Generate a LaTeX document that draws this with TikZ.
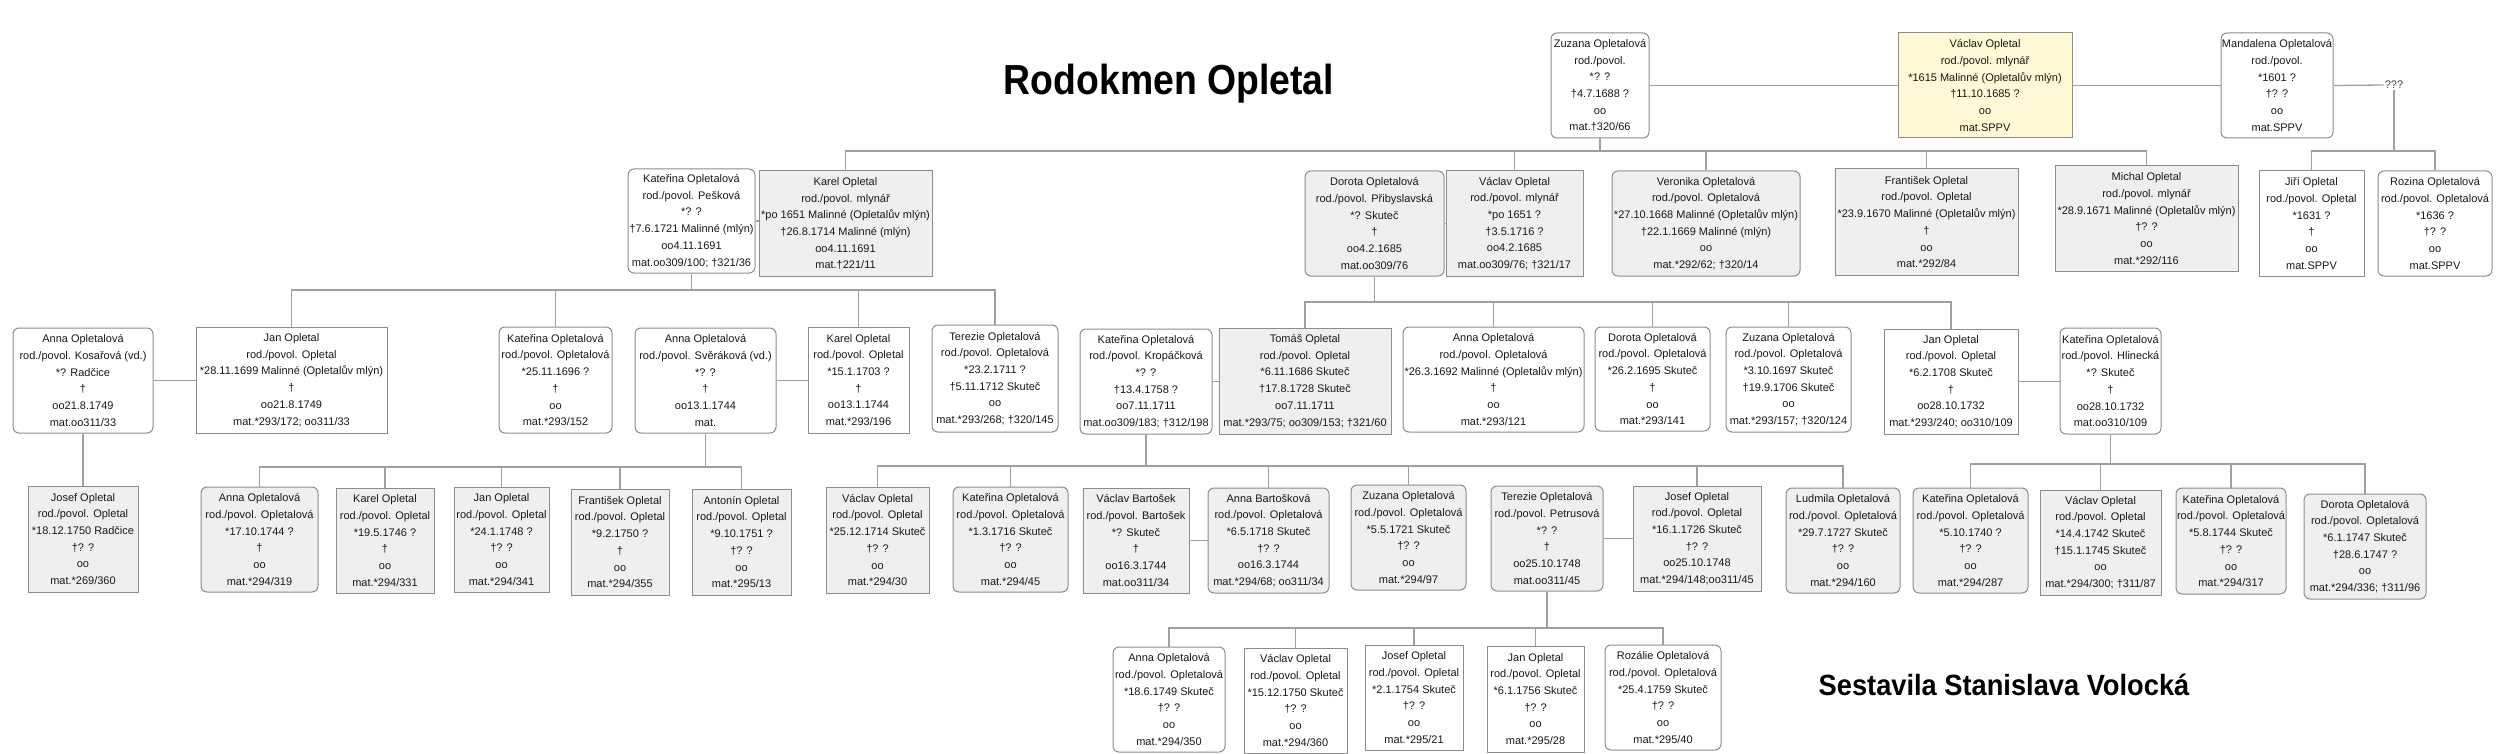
\documentclass[tikz,border=0pt]{standalone}
\usepackage{fontspec}
\usepackage{graphicx}
\setmainfont{Liberation Sans}
\usetikzlibrary{calc}
\definecolor{bordc}{HTML}{8C8C8C}
\definecolor{connc}{HTML}{A0A0A0}
\definecolor{greyf}{HTML}{EFEFEF}
\definecolor{yelf}{HTML}{FFF8D4}
\newcommand\person[7]{\node[pbox,#6,minimum width={#3pt-#2pt},minimum height={#5pt-#4pt}] (#1) at ({(#2+#3)/2},{-(#4+#5)/2}) {#7};}
\tikzset{
 pbox/.style={draw=bordc, line width=1pt, fill=white, inner sep=0pt, align=center, font=\fontsize{11}{16.7}\selectfont, text=black!90},
 male/.style={},
 fem/.style={rounded corners=6pt},
 gr/.style={fill=greyf},
 yel/.style={fill=yelf},
 conn/.style={draw=connc, line width=1.3pt},
}
\begin{document}
\begin{tikzpicture}[x=1pt,y=1pt]
\fill[white] (0,0) rectangle (2500,-754);
\useasboundingbox (0,0) rectangle (2500,-754);
% titles
\node[anchor=base, inner sep=0pt, font=\fontsize{42}{46}\selectfont\bfseries] (title) at (1169,-95) {\scalebox{0.89}[1]{Rodokmen Opletal}};
\node[anchor=base, inner sep=0pt, font=\fontsize{29.3}{32}\selectfont\bfseries] (author) at (2004,-695) {\scalebox{0.93}[1]{Sestavila Stanislava Volocká}};
% row 1
\person{zuz1}{1551}{1649}{33}{138}{fem}{Zuzana Opletalová\\rod./povol.\\*? ?\\†4.7.1688 ?\\oo\\mat.†320/66}
\person{vac1}{1898}{2072}{33}{138}{male,yel}{Václav Opletal\\rod./povol. mlynář\\*1615 Malinné (Opletalův mlýn)\\†11.10.1685 ?\\oo\\mat.SPPV}
\person{man1}{2221}{2333}{33}{138}{fem}{Mandalena Opletalová\\rod./povol.\\*1601 ?\\†? ?\\oo\\mat.SPPV}
\node[font=\fontsize{11}{13}\selectfont, inner sep=1pt, text=black!75] (unk) at (2394,-85) {???};
% row 2
\person{katP}{628}{755}{169}{273}{fem}{Kateřina Opletalová\\rod./povol. Pešková\\*? ?\\†7.6.1721 Malinné (mlýn)\\oo4.11.1691\\mat.oo309/100; †321/36}
\person{karP}{759}{932}{171}{276}{male,gr}{Karel Opletal\\rod./povol. mlynář\\*po 1651 Malinné (Opletalův mlýn)\\†26.8.1714 Malinné (mlýn)\\oo4.11.1691\\mat.†221/11}
\person{dorP}{1305}{1444}{171}{276}{fem,gr}{Dorota Opletalová\\rod./povol. Přibyslavská\\*? Skuteč\\†\\oo4.2.1685\\mat.oo309/76}
\person{vacP}{1446}{1583}{171}{276}{male,gr}{Václav Opletal\\rod./povol. mlynář\\*po 1651 ?\\†3.5.1716 ?\\oo4.2.1685\\mat.oo309/76; †321/17}
\person{ver}{1612}{1800}{171}{276}{fem,gr}{Veronika Opletalová\\rod./povol. Opletalová\\*27.10.1668 Malinné (Opletalův mlýn)\\†22.1.1669 Malinné (mlýn)\\oo\\mat.*292/62; †320/14}
\person{fra}{1835}{2018}{169}{275}{male,gr}{František Opletal\\rod./povol. Opletal\\*23.9.1670 Malinné (Opletalův mlýn)\\†\\oo\\mat.*292/84}
\person{mic}{2055}{2238}{166}{271}{male,gr}{Michal Opletal\\rod./povol. mlynář\\*28.9.1671 Malinné (Opletalův mlýn)\\†? ?\\oo\\mat.*292/116}
\person{jir}{2259}{2364}{171}{276}{male}{Jiří Opletal\\rod./povol. Opletal\\*1631 ?\\†\\oo\\mat.SPPV}
\person{roz}{2378}{2492}{171}{276}{fem}{Rozina Opletalová\\rod./povol. Opletalová\\*1636 ?\\†? ?\\oo\\mat.SPPV}
% row 3
\person{annK}{13}{153}{328}{433}{fem}{Anna Opletalová\\rod./povol. Kosařová (vd.)\\*? Radčice\\†\\oo21.8.1749\\mat.oo311/33}
\person{janA}{196}{387}{327}{433}{male}{Jan Opletal\\rod./povol. Opletal\\*28.11.1699 Malinné (Opletalův mlýn)\\†\\oo21.8.1749\\mat.*293/172; oo311/33}
\person{katA}{499}{612}{327}{433}{fem}{Kateřina Opletalová\\rod./povol. Opletalová\\*25.11.1696 ?\\†\\oo\\mat.*293/152}
\person{annS}{635}{776}{328}{433}{fem}{Anna Opletalová\\rod./povol. Svěráková (vd.)\\*? ?\\†\\oo13.1.1744\\mat.}
\person{karA}{808}{909}{327}{433}{male}{Karel Opletal\\rod./povol. Opletal\\*15.1.1703 ?\\†\\oo13.1.1744\\mat.*293/196}
\person{terA}{932}{1058}{325}{432}{fem}{Terezie Opletalová\\rod./povol. Opletalová\\*23.2.1711 ?\\†5.11.1712 Skuteč\\oo\\mat.*293/268; †320/145}
\person{katK}{1080}{1212}{329}{434}{fem}{Kateřina Opletalová\\rod./povol. Kropáčková\\*? ?\\†13.4.1758 ?\\oo7.11.1711\\mat.oo309/183; †312/198}
\person{tom}{1219}{1391}{328}{434}{male,gr}{Tomáš Opletal\\rod./povol. Opletal\\*6.11.1686 Skuteč\\†17.8.1728 Skuteč\\oo7.11.1711\\mat.*293/75; oo309/153; †321/60}
\person{annD}{1403}{1584}{327}{432}{fem}{Anna Opletalová\\rod./povol. Opletalová\\*26.3.1692 Malinné (Opletalův mlýn)\\†\\oo\\mat.*293/121}
\person{dorD}{1595}{1710}{327}{431}{fem}{Dorota Opletalová\\rod./povol. Opletalová\\*26.2.1695 Skuteč\\†\\oo\\mat.*293/141}
\person{zuzD}{1726}{1851}{327}{432}{fem}{Zuzana Opletalová\\rod./povol. Opletalová\\*3.10.1697 Skuteč\\†19.9.1706 Skuteč\\oo\\mat.*293/157; †320/124}
\person{janD}{1884}{2018}{329}{434}{male}{Jan Opletal\\rod./povol. Opletal\\*6.2.1708 Skuteč\\†\\oo28.10.1732\\mat.*293/240; oo310/109}
\person{katH}{2060}{2161}{328}{434}{fem}{Kateřina Opletalová\\rod./povol. Hlinecká\\*? Skuteč\\†\\oo28.10.1732\\mat.oo310/109}
% row 4
\person{josK}{28}{138}{486}{592}{male,gr}{Josef Opletal\\rod./povol. Opletal\\*18.12.1750 Radčice\\†? ?\\oo\\mat.*269/360}
\person{annS1}{201}{318}{487}{592}{fem,gr}{Anna Opletalová\\rod./povol. Opletalová\\*17.10.1744 ?\\†\\oo\\mat.*294/319}
\person{karS}{336}{434}{488}{593}{male,gr}{Karel Opletal\\rod./povol. Opletal\\*19.5.1746 ?\\†\\oo\\mat.*294/331}
\person{janS}{454}{549}{487}{592}{male,gr}{Jan Opletal\\rod./povol. Opletal\\*24.1.1748 ?\\†? ?\\oo\\mat.*294/341}
\person{fraS}{571}{669}{489}{595}{male,gr}{František Opletal\\rod./povol. Opletal\\*9.2.1750 ?\\†\\oo\\mat.*294/355}
\person{antS}{692}{791}{489}{595}{male,gr}{Antonín Opletal\\rod./povol. Opletal\\*9.10.1751 ?\\†? ?\\oo\\mat.*295/13}
\person{vacT}{826}{929}{487}{593}{male,gr}{Václav Opletal\\rod./povol. Opletal\\*25.12.1714 Skuteč\\†? ?\\oo\\mat.*294/30}
\person{katT}{953}{1068}{487}{592}{fem,gr}{Kateřina Opletalová\\rod./povol. Opletalová\\*1.3.1716 Skuteč\\†? ?\\oo\\mat.*294/45}
\person{vacB}{1083}{1189}{488}{593}{male,gr}{Václav Bartošek\\rod./povol. Bartošek\\*? Skuteč\\†\\oo16.3.1744\\mat.oo311/34}
\person{annB}{1208}{1329}{488}{593}{fem,gr}{Anna Bartošková\\rod./povol. Opletalová\\*6.5.1718 Skuteč\\†? ?\\oo16.3.1744\\mat.*294/68; oo311/34}
\person{zuzT}{1351}{1466}{485}{590}{fem,gr}{Zuzana Opletalová\\rod./povol. Opletalová\\*5.5.1721 Skuteč\\†? ?\\oo\\mat.*294/97}
\person{terP}{1491}{1603}{486}{591}{fem,gr}{Terezie Opletalová\\rod./povol. Petrusová\\*? ?\\†\\oo25.10.1748\\mat.oo311/45}
\person{josT}{1633}{1761}{486}{591}{male,gr}{Josef Opletal\\rod./povol. Opletal\\*16.1.1726 Skuteč\\†? ?\\oo25.10.1748\\mat.*294/148;oo311/45}
\person{lud}{1786}{1900}{488}{593}{fem,gr}{Ludmila Opletalová\\rod./povol. Opletalová\\*29.7.1727 Skuteč\\†? ?\\oo\\mat.*294/160}
\person{katH1}{1913}{2028}{488}{593}{fem,gr}{Kateřina Opletalová\\rod./povol. Opletalová\\*5.10.1740 ?\\†? ?\\oo\\mat.*294/287}
\person{vacH}{2040}{2161}{490}{595}{male,gr}{Václav Opletal\\rod./povol. Opletal\\*14.4.1742 Skuteč\\†15.1.1745 Skuteč\\oo\\mat.*294/300; †311/87}
\person{katH2}{2176}{2286}{488}{594}{fem,gr}{Kateřina Opletalová\\rod./povol. Opletalová\\*5.8.1744 Skuteč\\†? ?\\oo\\mat.*294/317}
\person{dorH}{2304}{2426}{494}{599}{fem,gr}{Dorota Opletalová\\rod./povol. Opletalová\\*6.1.1747 Skuteč\\†28.6.1747 ?\\oo\\mat.*294/336; †311/96}
% row 5
\person{annP}{1113}{1225}{647}{752}{fem}{Anna Opletalová\\rod./povol. Opletalová\\*18.6.1749 Skuteč\\†? ?\\oo\\mat.*294/350}
\person{vacP5}{1244}{1347}{648}{753}{male}{Václav Opletal\\rod./povol. Opletal\\*15.12.1750 Skuteč\\†? ?\\oo\\mat.*294/360}
\person{josP}{1365}{1463}{645}{750}{male}{Josef Opletal\\rod./povol. Opletal\\*2.1.1754 Skuteč\\†? ?\\oo\\mat.*295/21}
\person{janP}{1487}{1584}{646}{752}{male}{Jan Opletal\\rod./povol. Opletal\\*6.1.1756 Skuteč\\†? ?\\oo\\mat.*295/28}
\person{rozP}{1605}{1721}{645}{750}{fem}{Rozálie Opletalová\\rod./povol. Opletalová\\*25.4.1759 Skuteč\\†? ?\\oo\\mat.*295/40}
% spouse connectors
\draw[conn] (zuz1.east) -- (zuz1.east -| vac1.west);
\draw[conn] (vac1.east) -- (vac1.east -| man1.west);
\draw[conn] (man1.east) -- (unk.west);
\draw[conn] (katP.east) -- (katP.east -| karP.west);
\draw[conn] (dorP.east) -- (dorP.east -| vacP.west);
\draw[conn] (annK.east) -- (annK.east -| janA.west);
\draw[conn] (annS.east) -- (annS.east -| karA.west);
\draw[conn] (katK.east) -- (katK.east -| tom.west);
\draw[conn] (janD.east) -- (janD.east -| katH.west);
\draw[conn] (vacB.east) -- (vacB.east -| annB.west);
\draw[conn] (terP.east) -- (terP.east -| josT.west);
% family: Zuzana + Vaclav
\draw[conn] (zuz1.south) -- (zuz1.south |- 0,-151);
\draw[conn] (karP.north) -- (karP.north |- 0,-151) -- (mic.north |- 0,-151) -- (mic.north);
\foreach \c in {vacP,ver,fra} \draw[conn] (\c.north) -- (\c.north |- 0,-151);
% family: ???
\draw[conn] (unk.south) -- (unk.south |- 0,-151);
\draw[conn] (jir.north) -- (jir.north |- 0,-151) -- (roz.north |- 0,-151) -- (roz.north);
% family: Katerina Peskova
\draw[conn] (katP.south) -- (katP.south |- 0,-290);
\draw[conn] (janA.north) -- (janA.north |- 0,-290) -- (terA.north |- 0,-290) -- (terA.north);
\foreach \c in {katA,karA} \draw[conn] (\c.north) -- (\c.north |- 0,-290);
% family: Dorota
\draw[conn] (dorP.south) -- (dorP.south |- 0,-302);
\draw[conn] (tom.north) -- (tom.north |- 0,-302) -- (janD.north |- 0,-302) -- (janD.north);
\foreach \c in {annD,dorD,zuzD} \draw[conn] (\c.north) -- (\c.north |- 0,-302);
% family: Anna Kosarova
\draw[conn] (annK.south) -- (josK.north);
% family: Anna Sverakova
\draw[conn] (annS.south) -- (annS.south |- 0,-467);
\draw[conn] (annS1.north) -- (annS1.north |- 0,-467) -- (antS.north |- 0,-467) -- (antS.north);
\foreach \c in {karS,janS,fraS} \draw[conn] (\c.north) -- (\c.north |- 0,-467);
% family: Katerina Kropackova
\draw[conn] (katK.south) -- (katK.south |- 0,-466);
\draw[conn] (vacT.north) -- (vacT.north |- 0,-466) -- (lud.north |- 0,-466) -- (lud.north);
\foreach \c in {katT,annB,zuzT,josT} \draw[conn] (\c.north) -- (\c.north |- 0,-466);
% family: Katerina Hlinecka
\draw[conn] (katH.south) -- (katH.south |- 0,-464);
\draw[conn] (katH1.north) -- (katH1.north |- 0,-464) -- (dorH.north |- 0,-464) -- (dorH.north);
\foreach \c in {vacH,katH2} \draw[conn] (\c.north) -- (\c.north |- 0,-464);
% family: Terezie Petrusova
\draw[conn] (terP.south) -- (terP.south |- 0,-628);
\draw[conn] (annP.north) -- (annP.north |- 0,-628) -- (rozP.north |- 0,-628) -- (rozP.north);
\foreach \c in {vacP5,josP,janP} \draw[conn] (\c.north) -- (\c.north |- 0,-628);
\end{tikzpicture}
\end{document}
